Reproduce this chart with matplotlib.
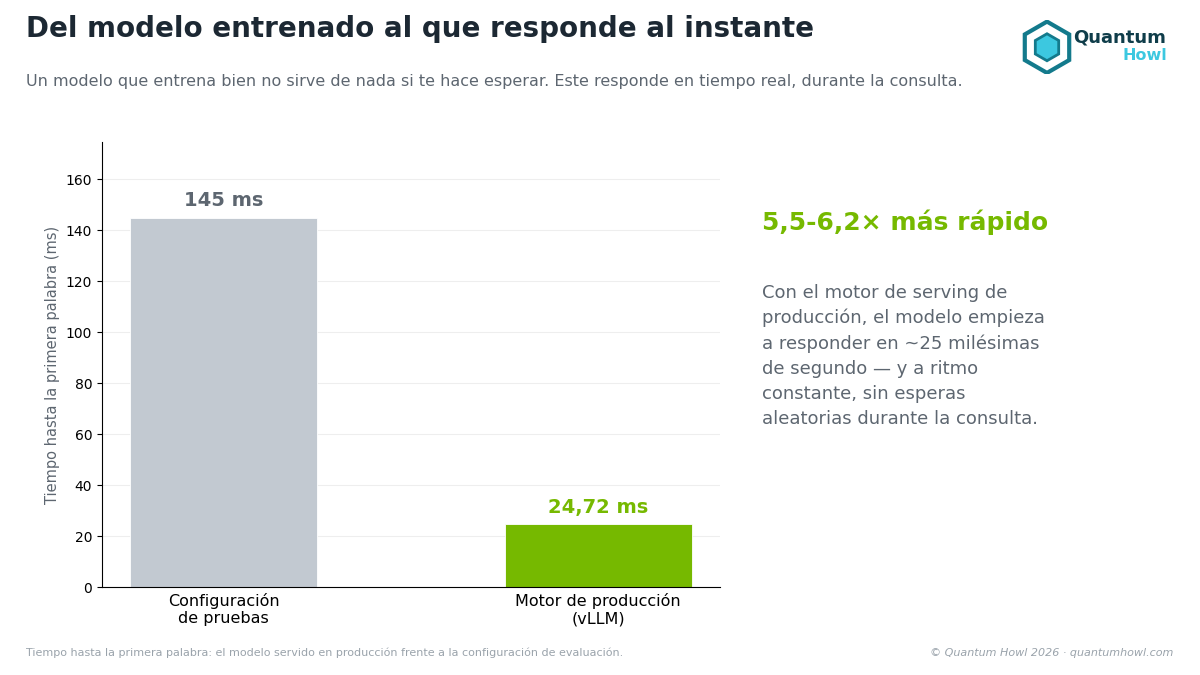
import matplotlib.pyplot as plt
from matplotlib.patches import RegularPolygon

# data
categories = ['Configuración\nde pruebas', 'Motor de producción\n(vLLM)']
latency_ms = [145, 24.72]
value_labels = ['145 ms', '24,72 ms']
bar_colors = ['#c2c9d1', '#76b900']
label_colors = ['#5d6670', '#76b900']

fig = plt.figure(figsize=(12, 6.75), dpi=100)
ax = fig.add_axes([0.085, 0.130, 0.515, 0.660])

x = list(range(len(categories)))
ax.bar(x, latency_ms, width=0.5, color=bar_colors, edgecolor='white',
       linewidth=0.6, zorder=2)
for xi, v, lab, c in zip(x, latency_ms, value_labels, label_colors):
    ax.text(xi, v + 3.0, lab, ha='center', va='bottom', fontsize=14,
            fontweight='bold', color=c)

ax.set_xticks(x)
ax.set_xticklabels(categories, fontsize=11.5)
ax.tick_params(axis='x', length=0, pad=4)
ax.set_ylim(0, max(latency_ms) * 1.205)
ax.set_yticks(range(0, 161, 20))
ax.set_ylabel('Tiempo hasta la primera palabra (ms)', fontsize=10.5, color='#5d6670')
ax.grid(axis='y', color='#eeeeee', linewidth=0.8, zorder=0)
ax.spines['top'].set_visible(False)
ax.spines['right'].set_visible(False)
ax.tick_params(axis='y', labelsize=10)

# header
fig.text(0.0217, 0.957, 'Del modelo entrenado al que responde al instante',
         fontsize=20, fontweight='bold', color='#1c2833', va='center')
fig.text(0.0217, 0.879, 'Un modelo que entrena bien no sirve de nada si te hace esperar. '
         'Este responde en tiempo real, durante la consulta.',
         fontsize=11.5, color='#5d6670', va='center')

# side annotation
fig.text(0.635, 0.671, '5,5-6,2× más rápido', fontsize=18, fontweight='bold',
         color='#76b900', va='center')
fig.text(0.635, 0.580,
         'Con el motor de serving de\nproducción, el modelo empieza\n'
         'a responder en ~25 milésimas\nde segundo — y a ritmo\n'
         'constante, sin esperas\naleatorias durante la consulta.',
         fontsize=13, color='#5d6670', va='top', linespacing=1.5)

# footer
fig.text(0.0217, 0.033, 'Tiempo hasta la primera palabra: el modelo servido en producción '
         'frente a la configuración de evaluación.', fontsize=8, color='#9aa3ab', va='center')
fig.text(0.978, 0.033, '© Quantum Howl 2026 · quantumhowl.com', fontsize=8,
         color='#9aa3ab', style='italic', ha='right', va='center')

# logo
lax = fig.add_axes([0.850, 0.890, 0.045, 0.08])
lax.set_xlim(-1, 1)
lax.set_ylim(-1, 1)
lax.set_aspect('equal')
lax.axis('off')
lax.add_patch(RegularPolygon((0, 0), 6, radius=0.95, facecolor='none',
                             edgecolor='#137a8c', linewidth=3))
lax.add_patch(RegularPolygon((0, 0), 6, radius=0.5, facecolor='#3cc8e0',
                             edgecolor='#137a8c', linewidth=2))
fig.text(0.894, 0.944, 'Quantum', fontsize=13, fontweight='bold', color='#0f3d4a', va='center')
fig.text(0.935, 0.918, 'Howl', fontsize=11.5, fontweight='bold', color='#3cc8e0', va='center')

fig.savefig('out.png', dpi=100)
